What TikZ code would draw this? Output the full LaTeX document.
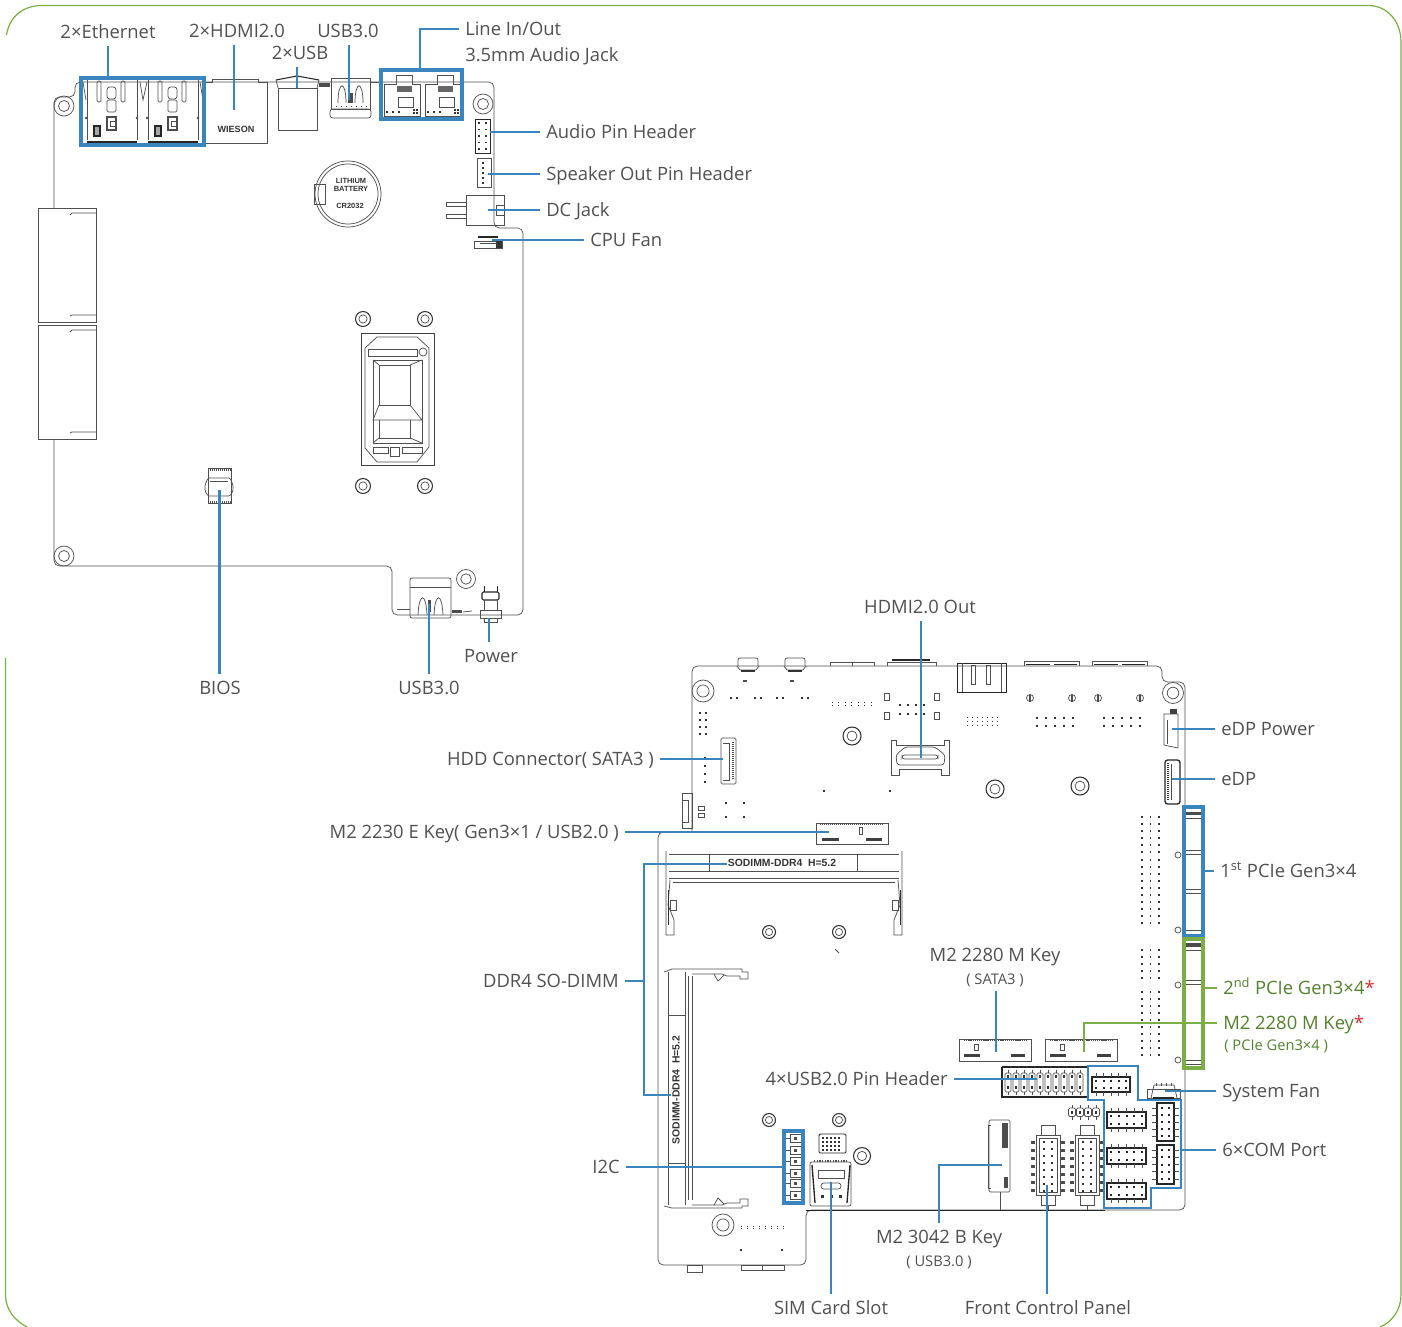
\documentclass[tikz,border=0pt]{standalone}
\usepackage{fontspec}
\setmainfont{Open Sans}
\newfontfamily\arialf{Liberation Sans}
\usetikzlibrary{fit,calc}
\definecolor{blueL}{HTML}{3A85BD}
\definecolor{greenL}{HTML}{7BAE45}
\definecolor{textG}{HTML}{505050}
\definecolor{greenT}{HTML}{55802F}
\definecolor{redT}{HTML}{D0302F}
\definecolor{compG}{HTML}{4F4F4F}
\tikzset{
 comp/.style={draw=compG,line width=0.55pt},
 compT/.style={draw=compG,line width=0.35pt},
 compK/.style={draw=black!85,line width=1pt},
 conn/.style={draw=blueL,line width=2.2pt},
 connG/.style={draw=greenL,line width=2.2pt},
 blueb/.style={draw=blueL,line width=2.3pt,inner sep=0pt},
 greenb/.style={draw=greenL,line width=2.3pt,inner sep=0pt},
 lab/.style={font=\fontsize{13.8}{17}\selectfont,text=textG,inner xsep=4.5pt,inner ysep=2.5pt,text height=12.8pt,text depth=3pt},
 labS/.style={font=\fontsize{11}{14}\selectfont,text=textG,inner xsep=3pt,inner ysep=3pt},
 tiny/.style={font=\arialf\bfseries\fontsize{5.6}{6}\selectfont,text=black!80,inner sep=0pt},
}
\newcommand{\mhole}[3]{\draw[comp] (#1,#2) circle[radius=#3]; \draw[comp] (#1,#2) circle[radius=#3*0.55];}
\newcommand{\shole}[3]{\draw[draw=black!80,line width=0.8pt] (#1,#2) circle[radius=#3]; \draw[comp] (#1,#2) circle[radius=#3*0.55];}
\newcommand{\dotsq}[7][0.9]{\foreach \i in {1,...,#6}{\foreach \j in {1,...,#7}{\fill[black!80] ({#2+(\i-1)*#4-#1},{#3+(\j-1)*#5-#1}) rectangle ++({2*#1},{2*#1});}}}
\newcommand{\ethp}[1]{%
 \draw[comp] (#1,80)--(#1,140); \draw[comp] (#1+50,80)--(#1+50,140);
 \draw[black!85,line width=1.6pt] (#1,142)--(#1+50,142);
 \draw[comp,rounded corners=1pt] (#1+10,81) rectangle (#1+14,102); \draw[comp,rounded corners=1pt] (#1+34,81) rectangle (#1+38,102);
 \draw[comp,rounded corners=2pt] (#1+20,87) rectangle (#1+29,99); \draw[comp,rounded corners=1pt] (#1+20,100) rectangle (#1+29,112);
 \draw[black!70,line width=.9pt] (#1+20,117) rectangle (#1+29,130); \draw[comp] (#1+23,121) rectangle (#1+29,126);
 \draw[compK] (#1+7,126) rectangle (#1+13,136); \fill[black!35] (#1+8,127) rectangle (#1+12,135);
 \fill[black!70] (#1-1,118) circle[radius=1.4]; \fill[black!70] (#1+50,118) circle[radius=1.4];
}
\newcommand{\jackp}[1]{%
 \draw[comp] (#1,84) -- (#1+12,84) -- (#1+12,75) -- (#1+28,75) -- (#1+28,84) -- (#1+36,84) -- (#1+36,116) -- (#1,116) -- cycle;
 \fill[black!60] (#1+13,86) rectangle (#1+28,92);
 \draw[comp] (#1+14,97) rectangle (#1+29,107);
 \dotsq[0.6]{#1+3}{112}{6}{1}{3}{1}
 \dotsq[0.6]{#1+30}{110}{3}{3}{2}{2}
}
\newcommand{\usbtc}[2]{%
 \draw[comp] (#1+1,#2) rectangle (#1+40,#2+31);
 \draw[comp,rounded corners=2pt] (#1,#2+31) rectangle (#1+41,#2+40);
 \draw[comp] (#1+8,#2+25) .. controls (#1+8,#2+2) and (#1+16,#2+2) .. (#1+16,#2+25);
 \draw[comp] (#1+25,#2+25) .. controls (#1+25,#2+2) and (#1+33,#2+2) .. (#1+33,#2+25);
 \fill[black!70] (#1+18,#2+15) rectangle (#1+23,#2+25);
 \dotsq[0.5]{#1+6}{#2+29}{5}{1}{7}{1}
}
\newcommand{\shroud}[4]{%
 \draw[compK] (#1,#2) rectangle ++(#3,#4);
 \foreach \k in {0,...,4}{
  \draw[comp] ({#1+4+\k*(#3-8)/4},#2-4) -- ++(0,4);
  \draw[comp] ({#1+4+\k*(#3-8)/4},#2+#4) -- ++(0,4);
  \fill[black!85] ({#1+4+\k*(#3-8)/4-1},{#2+#4*0.28-1}) rectangle ++(2,2);
  \fill[black!85] ({#1+4+\k*(#3-8)/4-1},{#2+#4*0.72-1}) rectangle ++(2,2);
 }
}
\newcommand{\shroudv}[4]{%
 \draw[compK] (#1,#2) rectangle ++(#3,#4);
 \foreach \k in {0,...,4}{
  \draw[comp] (#1-5,{#2+5+\k*(#4-10)/4}) -- ++(5,0);
  \draw[comp] (#1+#3,{#2+5+\k*(#4-10)/4}) -- ++(5,0);
  \fill[black!85] ({#1+#3*0.3-1},{#2+5+\k*(#4-10)/4-1}) rectangle ++(2,2);
  \fill[black!85] ({#1+#3*0.7-1},{#2+5+\k*(#4-10)/4-1}) rectangle ++(2,2);
 }
}
\newcommand{\fpanel}[1]{%
 \draw[comp] (#1,1135) rectangle ++(24,60);
 \draw[comp] (#1+3,1138) rectangle ++(18,54);
 \draw[comp] (#1+5,1125) rectangle ++(14,10);
 \draw[comp] (#1+5,1195) rectangle ++(14,10);
 \dotsq[0.8]{#1+8}{1142}{8}{7}{2}{8}
 \foreach \k in {0,...,6}{\fill[black!70] (#1-5,1141+\k*8) rectangle ++(4,2.5); \fill[black!70] (#1+25,1141+\k*8) rectangle ++(4,2.5);}
}
\newcommand{\mkey}[2]{%
 \draw[comp] (#1,#2) -- (#1+72,#2) -- (#1+72,#2+22) -- (#1,#2+22) -- cycle;
 \draw[black!70,line width=1.3pt,dash pattern=on 1pt off .6pt] (#1+5,#2+1) -- (#1+67,#2+1);
 \fill[black!75] (#1+5,#2+15) rectangle ++(16,3);
 \fill[black!75] (#1+52,#2+15) rectangle ++(14,3);
 \draw[comp] (#1+15,#2+5) rectangle ++(4,6);
}
\begin{document}
\begin{tikzpicture}[x=0.75pt,y=-0.75pt]
\useasboundingbox (0,0) rectangle (1402,1327);
% frame
\draw[greenL,line width=0.9pt] (6.5,35) .. controls (9,18) and (22,5.5) .. (42,5.5) -- (1368,5.5) .. controls (1388,5.5) and (1401,22) .. (1401,42) -- (1401,1295) .. controls (1401,1310) and (1392,1322) .. (1380,1327);
\draw[greenL,line width=0.9pt] (5.5,658) -- (5.5,1295) .. controls (6,1310) and (14,1320) .. (27,1327);
% ===== top board =====
\draw[comp,rounded corners=4pt] (54,208) -- (54,97) -- (75,97) -- (75,82) -- (494,82) -- (494,228) -- (523,228) -- (523,615) -- (392,615) -- (392,566) -- (54,566) -- (54,439);
\draw[comp] (38,208) rectangle (96,322); \draw[comp] (38,325) rectangle (96,439);
\draw[comp] (70,215)--(72,213)--(96,213); \draw[comp] (70,316)--(72,315)--(96,315);
\draw[comp] (70,332)--(72,330)--(96,330); \draw[comp] (70,433)--(72,432)--(96,432);
\mhole{64}{106}{10} \mhole{483}{104}{10} \mhole{64}{556}{10} \mhole{466}{579}{9.5}
\ethp{87} \ethp{148}
\draw[comp] (83,82)--(86,100); \draw[comp] (140,82)--(143,100)--(147,82); \draw[comp] (200,82)--(203,100);
% hdmi
\draw[comp] (205,82) -- (212,82) -- (212,79) -- (258,79) -- (258,82) -- (267,82) -- (267,143) -- (205,143) -- cycle;
\node[tiny,font=\arialf\bfseries\fontsize{6.8}{7}\selectfont] (nWieson) at (236,129) {WIESON};
% usb
\draw[comp] (278,88) rectangle (317,130);
\draw[compK,line width=0.8pt] (276,80) -- (297,76) -- (319,80);
\draw[comp] (276,80)--(278,88); \draw[comp] (319,80)--(317,88);
\fill[black!70] (319,83) rectangle (330,87);
\usbtc{330}{78}
\draw[comp] (371,82)--(381,82);
\jackp{384} \jackp{425}
% headers
\draw[compK,line width=0.7pt] (475,119) rectangle (490,153);
\dotsq[0.9]{479}{123}{7}{6.5}{2}{5}
\draw[comp] (477,158) rectangle (491,187);
\dotsq[0.9]{483}{163}{1}{5}{1}{5}
% DC jack
\draw[comp] (466,195) rectangle (504,225);
\draw[comp] (446,202) rectangle (466,206); \draw[comp] (446,214) rectangle (466,218);
\draw[comp] (496,205) rectangle (504,215);
% fan
\draw[comp] (474,241) rectangle (502,248);
\draw[compK] (478,237) -- (498,237); \fill[black!80] (496,240) rectangle (502,248);
\draw[comp] (480,243)--(497,243);
% battery
\draw[comp] (348,194) circle[radius=33]; \draw[comp] (348,194) circle[radius=30];
\draw[comp] (314,184) rectangle (325,204);
\node[tiny] (nLi) at (351,181) {LITHIUM};
\node[tiny] (nBa) at (351,188.5) {BATTERY};
\node[tiny] (nCr) at (350,206) {CR2032};
% cpu
\foreach \a/\b in {363/319,425/319,363/486,425/486}{\shole{\a}{\b}{7.5}}
\draw[draw=black!75,line width=0.7pt] (361,333) rectangle (434,465);
\draw[comp] (377,337) -- (417,337) -- (429,348) -- (429,447) -- (417,462) -- (377,462) -- (365,448) -- (365,348) -- cycle;
\draw[comp] (368,349) rectangle (417,356); \draw[comp] (423,352) circle[radius=4];
\draw[comp] (373,360) rectangle (422,443);
\draw[comp] (379,365) rectangle (410,405);
\draw[comp] (373,360)--(379,365); \draw[comp] (422,360)--(410,365);
\draw[comp] (379,405) -- (373,420) -- (422,420) -- (410,405);
\draw[comp] (379,420) -- (379,438) -- (410,438) -- (410,420);
\draw[comp] (373,443)--(379,438); \draw[comp] (422,443)--(410,438);
\draw[comp] (373,447) rectangle (388,453); \draw[comp] (390,447) rectangle (399,456); \draw[comp] (402,447) rectangle (422,453);
% bios
\draw[comp,rounded corners=1pt] (208,478) -- (205,485) -- (205,491) -- (208,496) -- (230,496) -- (233,491) -- (233,485) -- (230,478) -- cycle;
\draw[comp] (210,481) -- (228,481);
\draw[black!70,line width=1.2pt,dash pattern=on 1pt off .5pt] (208,470) -- (231,470);
\draw[black!70,line width=1.2pt,dash pattern=on 1pt off .5pt] (208,502) -- (231,502);
\draw[comp] (208,468) rectangle (231,503);
% usb3 bottom
\draw[comp,rounded corners=1.5pt] (410,578) rectangle (451,618);
\draw[comp] (410,587)--(451,587);
\draw[comp] (418,615) .. controls (419,592) and (426,592) .. (427,615);
\draw[comp] (434,615) .. controls (435,592) and (442,592) .. (443,615);
\fill[black!70] (428,600) rectangle (431,612);
\draw[comp] (397,609)--(410,609);
\fill[black!70] (452,610) rectangle (462,613); \draw[comp] (463,612)--(472,611);
% power
\draw[comp] (480,610) rectangle (501,618);
\draw[comp] (484,618) rectangle (497,622);
\draw[compK,line width=0.8pt,rounded corners=1pt] (482,592) -- (482,600) -- (499,600) -- (499,592) -- cycle;
\draw[comp] (484,600)--(484,610); \draw[comp] (497,600)--(497,610);
\draw[compK,line width=0.7pt] (484,586) -- (484,592); \draw[compK,line width=0.7pt] (497,586)--(497,592);
% ===== bottom board =====
\draw[comp,rounded corners=4pt] (692,832) -- (692,666) -- (1162,666) -- (1162,682) -- (1185,682) -- (1185,1210) -- (806,1210) -- (806,1265) -- (658,1265) -- (658,832) -- (820,832);
\draw[compK,line width=0.7pt] (806,1210) -- (1105,1210);
% top connectors
\foreach \a in {737,784}{
 \draw[comp] (\a,666) -- (\a+3,670) -- (\a+19,670) -- (\a+22,666);
 \draw[comp,rounded corners=1.5pt] (\a+1,666) -- (\a+1,658) -- (\a+21,658) -- (\a+21,666);
 \fill[black!80] (\a+4,670) rectangle (\a+18,672);
 \fill[black!70] (\a+6,680) rectangle (\a+10,682);
}
\draw[comp] (830,666) -- (830,662) -- (874,662) -- (874,666); \draw[comp] (852,662)--(852,666);
\draw[comp] (887,662) -- (936,662) -- (936,666); \draw[comp] (887,662)--(887,666); \draw[compK] (892,660) -- (930,660);
\draw[compK,line width=.7pt] (957,663) rectangle (1006,692);
\draw[comp] (971,665) rectangle (975,684); \draw[comp] (986,665) rectangle (990,684);
\draw[comp] (962,663)--(962,692); \draw[comp] (1001,663)--(1001,692);
\draw[comp] (1024,661) -- (1079,661) -- (1079,666); \draw[comp] (1024,661)--(1024,666);
\draw[comp] (1092,661) -- (1147,661) -- (1147,666); \draw[comp] (1092,661)--(1092,666);
\draw[compK,line width=.7pt] (1026,664)--(1050,664) (1054,664)--(1077,664) (1094,664)--(1118,664) (1122,664)--(1145,664);
\mhole{703}{691}{11} \mhole{1173}{693}{10.5}
\shole{852}{736}{9} \shole{995}{789}{9} \shole{1080}{786}{9}
\dotsq[0.8]{731}{698}{6}{1}{2}{1} \dotsq[0.8]{755}{698}{6}{1}{2}{1} \dotsq[0.8]{777}{698}{6}{1}{2}{1} \dotsq[0.8]{802}{698}{6}{1}{2}{1}
\dotsq[0.5]{832}{702}{6.5}{3}{7}{2}
\dotsq[1]{900}{705}{8}{9}{4}{2}
\draw[comp] (884,693) rectangle (889,700); \draw[comp] (934,693) rectangle (939,700); \draw[comp] (884,712) rectangle (889,719); \draw[comp] (934,712) rectangle (939,719);
\dotsq[0.5]{967}{717}{5}{4}{7}{3}
\foreach \a in {1030,1072,1098,1140}{\draw[comp] (\a,698) circle[radius=3.5]; \fill[black!70] (\a-1,698-3.5) rectangle (\a+1,698+3.5);}
\dotsq[0.8]{1037}{718}{9}{8}{5}{2}
\dotsq[0.8]{1104}{718}{9}{8}{5}{2}
\dotsq[1]{700}{713}{6}{7}{2}{4}
\dotsq[1]{705}{758}{1}{8}{1}{4}
\dotsq[1.4]{726}{803}{18}{14}{2}{2}
\dotsq[0.8]{824}{791}{66}{1}{2}{1}
\draw[comp] (682,793) rectangle (692,828);
\draw[comp] (682,800)--(688,800)--(688,822)--(682,822);
\draw[comp] (698,806) rectangle (704,810); \draw[comp] (698,813) rectangle (704,817);
% hdmi out
\draw[comp] (891,740) -- (896,740) -- (896,745) -- (944,745) -- (944,740) -- (949,740) -- (949,775) -- (941,775) -- (941,769) -- (899,769) -- (899,775) -- (891,775) -- cycle;
\draw[comp,rounded corners=2pt] (897,765) -- (896,755) -- (905,747) -- (935,747) -- (945,755) -- (944,765) -- cycle;
\draw[comp,rounded corners=2pt] (902,755) rectangle (938,759);
% hdd
\draw[comp,rounded corners=1pt] (721,738) rectangle (736,784);
\draw[comp] (723,743) -- (729,743) -- (729,780) -- (723,780);
\draw[black!70,line width=1.2pt,dash pattern=on 1pt off .5pt] (733,742) -- (733,780);
% edp power / edp
\draw[comp] (1164,714) -- (1164,745) -- (1178,748) -- (1178,714) -- cycle;
\fill[black!75] (1170,709) rectangle (1177,714);
\draw[comp] (1167,720) -- (1167,744);
\draw[compK,rounded corners=2pt] (1165,760) rectangle (1180,804);
\draw[black!80,line width=2pt,dash pattern=on 1pt off .5pt] (1168,763) -- (1168,801);
\draw[comp] (1171,764) -- (1171,800);
% M2 E
\draw[comp] (816,823) rectangle (888,844);
\draw[black!70,line width=1.2pt,dash pattern=on 1pt off .5pt] (820,824) -- (884,824);
\draw[comp] (859,827) rectangle (862,834);
\fill[black!75] (822,838) rectangle ++(17,3); \fill[black!75] (866,838) rectangle ++(16,3);
% sodimm h
\draw[comp] (669,854) -- (899,854); \draw[comp] (669,871) -- (899,871);
\draw[comp] (669,878) -- (899,878); \draw[comp] (673,882) -- (895,882);
\draw[comp] (709,854)--(709,871); \draw[comp] (857,854)--(857,871);
\draw[comp] (666,851)--(666,935)--(674,935)--(674,920)--(668,905)--(670,880);
\draw[comp] (902,851)--(902,935)--(894,935)--(894,920)--(900,905)--(898,880);
\draw[black!80] (668,890)--(668,925); \draw[black!80] (900,890)--(900,925);
\draw[comp] (670,900) rectangle (676,910); \draw[comp] (892,900) rectangle (898,910);
\node[tiny,font=\arialf\bfseries\fontsize{7.8}{9}\selectfont] (nDimm1) at (782,863) {SODIMM-DDR4\ \ H=5.2};
\shole{769}{932}{6.5} \shole{839}{932}{6.5}
\draw[comp] (835,949)--(839,953);
% sodimm v
\draw[comp] (668,972) -- (668,1205); \draw[comp] (685,972) -- (685,1205);
\draw[comp] (688,976) -- (688,1200); \draw[comp] (692,976) -- (692,1200);
\draw[comp] (668,1015) -- (685,1015); \draw[comp] (668,1163) -- (685,1163);
\draw[comp] (664,972) -- (672,969) -- (742,969) -- (742,972) -- (748,972) -- (748,979) -- (740,979) -- (740,976) -- (727,976) -- (722,974) -- (692,974);
\draw[comp] (664,1206) -- (672,1208) -- (742,1208) -- (742,1206) -- (748,1206) -- (748,1199) -- (740,1199) -- (740,1203) -- (727,1203) -- (722,1205) -- (692,1205);
\draw[comp] (714,974) -- (718,981) -- (724,975);
\draw[comp] (714,1205) -- (718,1198) -- (724,1204);
\node[tiny,rotate=90,font=\arialf\bfseries\fontsize{7.8}{9}\selectfont] (nDimm2) at (676,1090) {SODIMM-DDR4\ \ H=5.2};
\shole{769}{1120}{6.5} \shole{839}{1120}{6.5}
% i2c pins
\foreach \a in {1138,1150,1161,1173,1183,1195}{\draw[comp] (790,\a-4) rectangle (801,\a+4); \fill[black!70] (794,\a-1.5) rectangle (797,\a+1.5); \draw[comp] (786,\a)--(790,\a);}
% ic + sim
\draw[compK,rounded corners=1pt,line width=0.7pt] (819,1134) rectangle (846,1153);
\dotsq[0.8]{823}{1138}{4}{4}{5}{4}
\draw[comp,rounded corners=1.5pt] (810,1162) rectangle (851,1206);
\draw[black!70,line width=1.5pt,dash pattern=on 1pt off 1pt] (814,1161) -- (848,1161);
\draw[comp] (818,1170) rectangle (844,1178);
\draw[comp,rounded corners=2pt] (821,1183) rectangle (841,1189);
\dotsq[1.5]{822}{1196}{9}{1}{3}{1}
\draw[compK] (812,1165) -- (815,1203); \draw[compK] (850,1165) -- (847,1203);
\shole{862}{1156}{8.5}
\mhole{723}{1225}{11}
\dotsq[0.5]{741}{1226}{6}{2}{8}{2}
\dotsq[1]{741}{1250}{41}{1}{2}{1}
\draw[comp] (687,1265) rectangle (702,1272);
\draw[comp] (741,1265) rectangle (784,1270); \draw[comp] (762,1265)--(762,1270);
% M2 M
\mkey{959}{1039} \mkey{1045}{1039}
% PCIe slot details
\foreach \y in {814,850,889,930,946,980,1060}{\draw[comp] (1185,\y) rectangle (1201,\y+4);}
\fill[black!70] (1185,812) rectangle (1201,815); \fill[black!70] (1185,943) rectangle (1201,947);
\foreach \y in {855,930,985,1060}{\draw[comp] (1178,\y) circle[radius=3];}
\dotsq[0.7]{1142}{817}{8.5}{7}{3}{6}
\dotsq[0.7]{1142}{860}{8.5}{7}{3}{10}
\dotsq[0.7]{1142}{950}{8.5}{7}{3}{5}
\dotsq[0.7]{1142}{992}{8.5}{7}{3}{10}
% usb2 header
\draw[compK] (1002,1067) -- (1088,1067); \draw[compK] (1002,1067) -- (1002,1097) -- (1088,1097);
\foreach \a in {1008,1016,1024,1032,1040,1048,1056,1064,1072,1080}{\draw[comp,rounded corners=1pt] (\a-3,1073) rectangle (\a+3,1092); \fill[black!80] (\a-1,1075) rectangle (\a+1,1078); \fill[black!80] (\a-1,1086) rectangle (\a+1,1089); \draw[comp] (\a,1070)--(\a,1073); \draw[comp] (\a,1092)--(\a,1095);}
\shroud{1092}{1077}{38}{15}
\shroud{1107}{1112}{39}{16} \shroud{1107}{1148}{39}{16} \shroud{1107}{1183}{39}{16}
\shroudv{1157}{1103}{17}{38} \shroudv{1157}{1145}{17}{39}
% small 4p
\foreach \a in {1072,1080,1088,1096}{\draw[comp,rounded corners=1pt] (\a-3.5,1108) rectangle (\a+3.5,1116.5); \fill[black!80] (\a-1,1111) rectangle (\a+1,1113.5); \draw[comp] (\a,1105)--(\a,1108); \draw[comp] (\a,1116.5)--(\a,1120);}
% system fan
\draw[comp] (1147,1089) rectangle (1180,1098);
\draw[compK] (1153,1098)--(1174,1098); \draw[comp] (1154,1085) -- (1174,1085) -- (1177,1098);
\draw[comp] (1154,1085)--(1151,1098);
\foreach \a in {1156,1161,1166,1171}{\draw[comp] (\a,1083)--(\a,1086);}
% M2 B
\draw[comp,rounded corners=1pt] (989,1120) rectangle (1010,1192);
\draw[comp] (991,1125)--(988,1125)--(988,1188)--(991,1188);
\fill[black!70] (1002,1123) rectangle (1008,1148);
\fill[black!70] (1004,1177) rectangle (1008,1188);
\draw[comp] (1000,1192)--(1000,1210);
\fpanel{1036} \fpanel{1075}
\draw[comp] (1048,1205)--(1048,1210); \draw[comp] (1087,1205)--(1087,1210);
% ===== blue / green boxes =====
\coordinate (a1) at (81,78); \coordinate (a2) at (204,145);
\node[blueb,fit=(a1)(a2)] (bEth) {};
\coordinate (a3) at (381,70); \coordinate (a4) at (462,119);
\node[blueb,fit=(a3)(a4)] (bLine) {};
\coordinate (a5) at (1184,807); \coordinate (a6) at (1203,936);
\node[blueb,fit=(a5)(a6)] (bPcie1) {};
\coordinate (a7) at (1184,939); \coordinate (a8) at (1203,1068);
\node[greenb,fit=(a7)(a8)] (bPcie2) {};
\coordinate (a9) at (784,1131); \coordinate (a10) at (803,1203);
\node[blueb,fit=(a9)(a10)] (bI2c) {};
\draw[conn,line join=miter] (1088,1066) -- (1138,1066) -- (1138,1100) -- (1181,1100) -- (1181,1188) -- (1151,1188) -- (1151,1208) -- (1104,1208) -- (1104,1100) -- (1088,1100) -- cycle;
\coordinate (cCom) at (1181,1150);
% ===== labels =====
\node[lab] (lEth) at (108,32) {2×Ethernet};
\node[lab] (lHdmi) at (237,31) {2×HDMI2.0};
\node[lab] (lUsb) at (300,53) {2×USB};
\node[lab] (lUsb3) at (348,31) {USB3.0};
\node[lab,anchor=west] (lLine) at (459,29) {Line In/Out};
\node[lab,anchor=west] (lJack) at (459,55) {3.5mm Audio Jack};
\node[lab,anchor=west] (lAud) at (540,132) {Audio Pin Header};
\node[lab,anchor=west] (lSpk) at (540,174) {Speaker Out Pin Header};
\node[lab,anchor=west] (lDc) at (540,210) {DC Jack};
\node[lab,anchor=west] (lFan) at (584,240) {CPU Fan};
\node[lab] (lBios) at (220,688) {BIOS};
\node[lab] (lUsb3b) at (429,688) {USB3.0};
\node[lab] (lPow) at (491,656) {Power};
\node[lab] (lHo) at (920,607) {HDMI2.0 Out};
\node[lab,anchor=west] (lEpw) at (1215,729) {eDP Power};
\node[lab,anchor=west] (lEdp) at (1215,779) {eDP};
\node[lab,anchor=east] (lHdd) at (660,759) {HDD Connector( SATA3 )};
\node[lab,anchor=east] (lE) at (625,832) {M2 2230 E Key( Gen3×1 / USB2.0 )};
\node[lab,anchor=east] (lDdr) at (625,981) {DDR4 SO-DIMM};
\node[lab] (lI2c) at (606,1167) {I2C};
\node[lab,anchor=west] (lP1) at (1214,871) {1\textsuperscript{st} PCIe Gen3×4};
\node[lab,anchor=west,text=greenT] (lP2) at (1217,988) {2\textsuperscript{nd} PCIe Gen3×4\textcolor{redT}{*}};
\node[lab,anchor=west,text=greenT] (lMg) at (1217,1023) {M2 2280 M Key\textcolor{redT}{*}};
\node[labS,anchor=west,text=greenT] (lMgs) at (1220,1046) {( PCIe Gen3×4 )};
\node[lab] (lMs) at (995,955) {M2 2280 M Key};
\node[labS] (lMss) at (995,980) {( SATA3 )};
\node[lab,anchor=east] (lUsb2) at (954,1079) {4×USB2.0 Pin Header};
\node[lab,anchor=west] (lSys) at (1216,1091) {System Fan};
\node[lab,anchor=west] (lCom) at (1216,1150) {6×COM Port};
\node[lab] (lB) at (939,1237) {M2 3042 B Key};
\node[labS] (lBs) at (939,1262) {( USB3.0 )};
\node[lab] (lSim) at (831,1308) {SIM Card Slot};
\node[lab] (lFp) at (1048,1308) {Front Control Panel};
% ===== connector ends =====
\coordinate (tHdmi) at (234,110); \coordinate (tUsb) at (297,88); \coordinate (tUsb3) at (349,100);
\coordinate (tLine) at (420,70);
\coordinate (tAud) at (490,132); \coordinate (tSpk) at (488,174); \coordinate (tDc) at (488,210); \coordinate (tFan) at (492,240);
\coordinate (tBios) at (219.5,490); \coordinate (tU3b) at (429,604); \coordinate (tPow) at (489,618);
\coordinate (tHo) at (921,758);
\coordinate (tEpw) at (1172,729); \coordinate (tEdp) at (1172,779);
\coordinate (tHdd) at (723,759); \coordinate (tE) at (829,832);
\coordinate (tDa) at (727,864); \coordinate (tDb) at (671,1095); \coordinate (jDa) at (644,864); \coordinate (jDb) at (644,1095);
\coordinate (tMs) at (996,1052); \coordinate (tMg) at (1084,1052);
\coordinate (tUsb2) at (1037,1079); \coordinate (tSys) at (1165,1091);
\coordinate (tB) at (1002,1165); \coordinate (tSim) at (831,1182); \coordinate (tFp) at (1047,1185);
% ===== connectors =====
\draw[conn] (lEth.south) -- (bEth.north -| lEth.south);
\draw[conn] (lHdmi.south -| tHdmi) -- (tHdmi);
\draw[conn] (lUsb.south -| tUsb) -- (tUsb);
\draw[conn] (lUsb3.south -| tUsb3) -- (tUsb3);
\draw[conn,line join=miter] (lLine.west) -| (tLine);
\draw[conn] (lAud.west) -- (tAud);
\draw[conn] (lSpk.west) -- (tSpk);
\draw[conn] (lDc.west) -- (tDc);
\draw[conn] (lFan.west) -- (tFan);
\draw[conn] (lBios.north -| tBios) -- (tBios);
\draw[conn] (lUsb3b.north -| tU3b) -- (tU3b);
\draw[conn] (lPow.north -| tPow) -- (tPow);
\draw[conn] (lHo.south -| tHo) -- (tHo);
\draw[conn] (lEpw.west) -- (tEpw);
\draw[conn] (lEdp.west) -- (tEdp);
\draw[conn] (lHdd.east) -- (tHdd);
\draw[conn] (lE.east) -- (tE);
\draw[conn] (lDdr.east) -- (lDdr.east -| jDa);
\draw[conn,line join=miter] (tDa) -- (jDa) -- (jDb) -- (tDb);
\draw[conn] (lI2c.east) -- (bI2c.west |- lI2c.east);
\draw[conn] (lP1.west) -- (bPcie1.east |- lP1.west);
\draw[connG] (lP2.west) -- (bPcie2.east |- lP2.west);
\draw[connG,line join=miter] (lMg.west) -| (tMg);
\draw[conn] (lMss.south -| tMs) -- (tMs);
\draw[conn] (lUsb2.east) -- (tUsb2);
\draw[conn] (lSys.west) -- (tSys);
\draw[conn] (lCom.west) -- (cCom);
\draw[conn,line join=miter] (lB.north) |- (tB);
\draw[conn] (lSim.north) -- (tSim);
\draw[conn] (lFp.north -| tFp) -- (tFp);
\end{tikzpicture}
\end{document}
